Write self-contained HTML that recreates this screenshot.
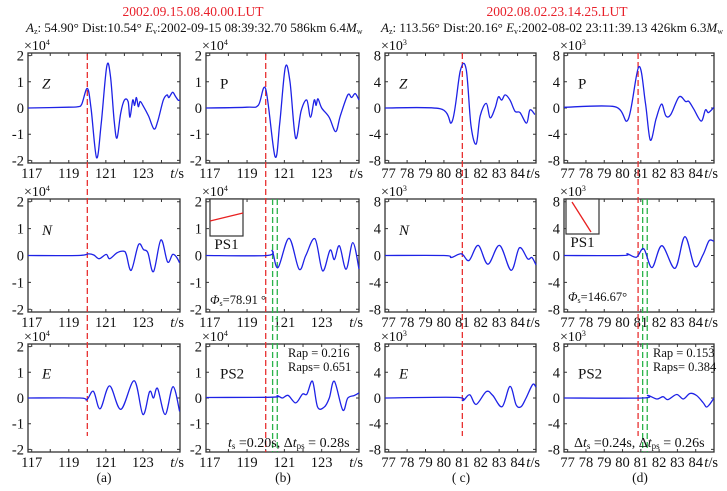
<!DOCTYPE html>
<html><head><meta charset="utf-8">
<style>
html,body{margin:0;padding:0;background:#fff;}
svg{display:block;font-family:"Liberation Serif",serif;}
</style></head>
<body>
<svg id="fig" width="727" height="491" viewBox="0 0 727 491" xmlns="http://www.w3.org/2000/svg">
<text x="193" y="16" text-anchor="middle" fill="#e8202a" font-size="13.5">2002.09.15.08.40.00.LUT</text>
<text x="26" y="32" font-size="13" fill="#111"><tspan font-style="italic">A</tspan><tspan font-size="8" dy="2">z</tspan><tspan dy="-2">: 54.90° Dist:10.54°  </tspan><tspan font-style="italic">E</tspan><tspan font-size="8" dy="2">v</tspan><tspan dy="-2">:2002-09-15 08:39:32.70  586km 6.4</tspan><tspan font-style="italic">M</tspan><tspan font-size="8" dy="2">w</tspan></text>
<text x="557" y="16" text-anchor="middle" fill="#e8202a" font-size="13.5">2002.08.02.23.14.25.LUT</text>
<text x="381" y="32" font-size="13" fill="#111"><tspan font-style="italic">A</tspan><tspan font-size="8" dy="2">z</tspan><tspan dy="-2">: 113.56° Dist:20.16°  </tspan><tspan font-style="italic">E</tspan><tspan font-size="8" dy="2">v</tspan><tspan dy="-2">:2002-08-02  23:11:39.13  426km 6.3</tspan><tspan font-style="italic">M</tspan><tspan font-size="8" dy="2">w</tspan></text>
</svg>
<script>
const aZ_t=[116.8,119.0,119.5,119.7,120.0,120.2,120.5,120.75,121.05,121.25,121.45,121.6,121.8,122.0,122.2,122.3,122.45,122.55,122.65,122.75,122.85,123.0,123.3,123.6,123.8,124.1,124.3,124.4,124.6,124.75,124.9,125.0];
const aZ_v=[0,0.03,0.05,0.15,0.75,0,-1.9,-0.6,1.6,1.2,-0.5,-1.15,-0.2,0.3,0.25,-0.35,0.3,0.1,0.4,0.05,0.25,0.1,-0.3,-0.8,-0.5,0.3,0.5,0.4,0.6,0.45,0.3,0.3];
const aN_t=[116.8,119.5,120.06,120.35,120.64,121.02,121.2,121.6,121.95,122.1,122.37,122.76,123.03,123.27,123.57,123.97,124.33,124.6,124.8,124.98];
const aN_v=[0,0,0.06,0.02,-0.12,0.04,-0.12,0.1,0.16,0.05,-0.55,0.4,0.22,0.1,-0.6,0.58,-0.24,0.04,-0.05,-0.27];
const aE_t=[116.8,119.6,119.97,120.33,120.69,121.2,121.81,122.53,123.0,123.36,123.57,123.79,124.2,124.62,124.98];
const aE_v=[0,0,-0.07,0.26,-0.42,0.47,-0.44,0.67,-0.64,0.25,0.0,0.37,-0.64,0.44,-0.52];
const bP_t=[116.8,119.0,119.6,120.0,120.5,120.75,121.05,121.3,121.6,121.9,122.2,122.4,122.6,122.7,122.8,123.0,123.4,123.75,124.0,124.4,124.6,124.8,125.0];
const bP_v=[0,0.03,0.1,0.72,-1.85,-0.6,1.55,1.0,-1.15,-0.1,0.3,-0.35,0.3,0.1,0.35,0.0,-0.35,-0.9,-0.3,0.5,0.4,0.55,0.3];
const bS1_t=[116.8,120.08,120.35,120.66,121.25,121.79,122.15,122.64,123.05,123.45,123.68,123.95,124.31,124.67,125.0];
const bS1_v=[0,0,0.17,-0.45,0.64,-0.51,0.0,0.62,-0.57,0.2,-0.15,0.36,-0.51,0.48,-0.5];
const bS2_t=[116.8,120.35,120.62,120.89,121.2,121.61,121.97,122.21,122.51,122.78,123.14,123.41,123.68,124.13,124.4,124.76,125.0];
const bS2_v=[0.02,0.03,0.09,0.0,0.1,-0.19,0.15,0.15,0.65,-0.35,-0.35,0.0,0.65,-0.47,0.0,0.1,0.2];
const cZ_t=[76.8,79.8,80.44,80.89,81.21,81.47,81.75,81.97,82.3,82.51,82.78,82.96,83.14,83.32,83.59,83.86,84.13,84.49,84.67,84.94];
const cZ_v=[0,-0.1,-2.1,5.7,5.9,-2.7,-5.5,-1.2,0.7,-1.5,0.0,1.7,1.2,2.0,1.2,-0.5,-0.7,-2.3,-0.3,-1.0];
const cN_t=[76.8,80.0,80.4,80.95,81.36,81.86,82.39,83.02,83.65,84.1,84.55,84.78,85.0];
const cN_v=[0,0,-0.3,0.25,-0.75,1.5,-1.3,1.5,-2.2,1.15,-0.5,-0.3,-1.4];
const cE_t=[76.8,80.67,81.03,81.4,81.75,82.3,82.65,83.16,83.59,83.92,84.19,84.46,84.82,85.0];
const cE_v=[0,0.1,-0.4,0.5,-1.0,1.0,0.4,-1.35,1.8,-1.05,-1.35,0.0,2.1,1.7];
const dP_t=[76.8,79.57,80.3,80.89,81.25,81.52,81.83,82.13,82.37,82.64,83.09,83.45,83.63,83.9,84.3,84.53,84.7,85.0];
const dP_v=[0.1,0.2,-1.8,6.3,0.8,-4.9,-1.7,0.6,-1.2,-1.0,1.7,1.0,1.0,-0.2,-2.0,-0.3,-0.7,0.1];
const dS1_t=[76.8,80.0,80.26,80.76,81.16,81.61,82.15,82.87,83.41,83.95,84.4,84.73,85.0];
const dS1_v=[0,0,0.25,-0.25,1.0,-1.8,1.45,-1.9,2.8,-1.6,0.1,2.2,2.1];
const dS2_t=[76.8,81.1,81.38,81.88,82.21,82.48,82.96,83.32,83.68,84.04,84.4,84.58,84.76,85.0];
const dS2_v=[0,0,0.4,-0.15,0.2,-0.25,0.55,-0.15,0.7,0.4,-0.7,-1.4,-1.0,0.0];
const abXTicks=[117,119,121,123];
const cdXTicks=[77,78,79,80,81,82,83,84];
const abYTicks=[-2,-1,0,1,2];
const cdYTicks=[-8,-4,0,4,8];

const NS="http://www.w3.org/2000/svg";
const svg=document.getElementById('fig');
function mk(tag,attrs,parent){const e=document.createElementNS(NS,tag);for(const k in attrs)e.setAttribute(k,attrs[k]);(parent||svg).appendChild(e);return e;}

const cols=[
 {x0:28,x1:180,xmin:116.8,xmax:125,ymax:2.1,xt:abXTicks,yt:abYTicks,exp:'4'},
 {x0:206,x1:359,xmin:116.8,xmax:125,ymax:2.1,xt:abXTicks,yt:abYTicks,exp:'4'},
 {x0:385,x1:536,xmin:76.8,xmax:85,ymax:8.4,xt:cdXTicks,yt:cdYTicks,exp:'3'},
 {x0:564,x1:714,xmin:76.8,xmax:85,ymax:8.4,xt:cdXTicks,yt:cdYTicks,exp:'3'}];
const rows=[[53,163],[199,312],[344,452]];
function sx(c,t){return c.x0+(t-c.xmin)/(c.xmax-c.xmin)*(c.x1-c.x0);}
function sy(c,r,v){const m=(r[0]+r[1])/2;return m-v/c.ymax*(r[1]-r[0])/2;}

const series=[
 [0,0,aZ_t,aZ_v,'Z',true],[0,1,aN_t,aN_v,'N',true],[0,2,aE_t,aE_v,'E',true],
 [1,0,bP_t,bP_v,'P',false],
 [1,1,bS1_t,bS1_v,'',false],[1,2,bS2_t,bS2_v,'PS2',false],
 [2,0,cZ_t,cZ_v,'Z',true],[2,1,cN_t,cN_v,'N',true],[2,2,cE_t,cE_v,'E',true],
 [3,0,dP_t,dP_v,'P',false],[3,1,dS1_t,dS1_v,'',false],[3,2,dS2_t,dS2_v,'PS2',false]];

function pathFrom(c,r,ts,vs){
  let pts=ts.map((t,i)=>[sx(c,t),sy(c,r,vs[i])]);
  let d='M'+pts[0][0].toFixed(1)+','+pts[0][1].toFixed(1);
  for(let i=0;i<pts.length-1;i++){
    const p0=pts[Math.max(0,i-1)],p1=pts[i],p2=pts[i+1],p3=pts[Math.min(pts.length-1,i+2)];
    const c1=[p1[0]+(p2[0]-p0[0])/6,p1[1]+(p2[1]-p0[1])/6];
    const c2=[p2[0]-(p3[0]-p1[0])/6,p2[1]-(p3[1]-p1[1])/6];
    d+=' C'+c1[0].toFixed(1)+','+c1[1].toFixed(1)+' '+c2[0].toFixed(1)+','+c2[1].toFixed(1)+' '+p2[0].toFixed(1)+','+p2[1].toFixed(1);
  }
  return d;
}

cols.forEach((c,ci)=>{
 rows.forEach((r,ri)=>{
  const g=mk('g',{});
  
  
  const box=mk('rect',{x:c.x0,y:r[0],width:c.x1-c.x0,height:r[1]-r[0],fill:'none',stroke:'#333','stroke-width':1.3},g);
  
  
  for(let t=Math.ceil(c.xmin);t<=c.xmax;t++){
    const x=sx(c,t);
    const tk=mk('path',{d:`M${x},${r[1]}v-3M${x},${r[0]}v3`,stroke:'#333','stroke-width':1},g);
    
    
  }
  c.xt.forEach(t=>{
    const x=sx(c,t);
    const lb=mk('text',{x:x,y:r[1]+15,'text-anchor':'middle','font-size':14.5,fill:'#111'},g);
    lb.textContent=t;
    
    
  });
  const ts=mk('text',{x:c.x1+4,y:r[1]+15,'text-anchor':'end','font-size':14.5,fill:'#111'},g);
  ts.innerHTML='<tspan font-style="italic">t</tspan>/s';
  
  
  c.yt.forEach(v=>{
    const y=sy(c,r,v);
    const tk=mk('path',{d:`M${c.x0},${y}h3M${c.x1},${y}h-3`,stroke:'#333','stroke-width':1},g);
    
    
    const lb=mk('text',{x:c.x0-4,y:y+5,'text-anchor':'end','font-size':14.5,fill:'#111'},g);
    lb.textContent=v;
    
    
  });
  const ex=mk('text',{x:c.x0-4,y:r[0]-3,'font-size':14,fill:'#111'},g);
  ex.innerHTML='×10<tspan font-size="8" dy="-5">'+c.exp+'</tspan>';
  
  
 });
});

function vline(x,y0,y1,col,name){
  const l=mk('line',{x1:x,x2:x,y1:y0,y2:y1,stroke:col,'stroke-width':1.3,'stroke-dasharray':'6,3'});
  
  
}
vline(sx(cols[0],120),54,436,'#e83030','p-arrival-line-a');
vline(sx(cols[1],120),54,452,'#e83030','p-arrival-line-b');
vline(sx(cols[1],120.37),199,452,'#2ab34a','ps-line-1-b');
vline(sx(cols[1],120.62),199,452,'#2ab34a','ps-line-2-b');
vline(sx(cols[2],81.0),53,436,'#e83030','p-arrival-line-c');
vline(sx(cols[3],80.85),53,436,'#e83030','p-arrival-line-d');
vline(sx(cols[3],81.1),199,452,'#2ab34a','ps-line-1-d');
vline(sx(cols[3],81.35),199,452,'#2ab34a','ps-line-2-d');

series.forEach(s=>{
  const c=cols[s[0]],r=rows[s[1]];
  const p=mk('path',{d:pathFrom(c,r,s[2],s[3]),fill:'none',stroke:'#1e22e6','stroke-width':1.3});
  
  
  if(s[4]){
    const lb=mk('text',{x:c.x0+14,y:sy(c,r,c.ymax*0.45)+5,'font-size':15,fill:'#111','font-style':s[5]?'italic':'normal'});
    lb.textContent=s[4];
    
    
  }
});

function inset(x,y,w,h,x1,y1,x2,y2,name){
  const g=mk('g',{});
  
  
  mk('rect',{x:x,y:y,width:w,height:h,fill:'#fff',stroke:'#333','stroke-width':1.2},g);
  mk('line',{x1:x1,y1:y1,x2:x2,y2:y2,stroke:'#e82020','stroke-width':1.3},g);
  const t=mk('text',{x:x+w/2,y:y+h+13,'text-anchor':'middle','font-size':15,fill:'#111'},g);
  t.textContent='PS1';
}
inset(210,199,33,37,210,221,243,213,'particle-motion-inset-b');
inset(566,199,33,35,572,202,591,232,'particle-motion-inset-d');
</script>
<script>
const s2=document.getElementById('fig');
function addText(x,y,html,name,size,anchor){
  const t=document.createElementNS("http://www.w3.org/2000/svg",'text');
  t.setAttribute('x',x);t.setAttribute('y',y);t.setAttribute('font-size',size||12.5);t.setAttribute('fill','#111');
  if(anchor)t.setAttribute('text-anchor',anchor);
  t.innerHTML=html;
  
  
  s2.appendChild(t);
}
addText(210,304,'<tspan font-style="italic">Φ</tspan><tspan font-size="8" dy="2">s</tspan><tspan dy="-2">=78.91 °</tspan>','phi-s-b',12.5);
addText(568,301,'<tspan font-style="italic">Φ</tspan><tspan font-size="8" dy="2">s</tspan><tspan dy="-2">=146.67°</tspan>','phi-s-d',12.5);
addText(288,357,'Rap  = 0.216','rap-b',12.5);
addText(288,371,'Raps= 0.651','raps-b',12.5);
addText(653,357,'Rap  = 0.153','rap-d',12.5);
addText(653,371,'Raps= 0.384','raps-d',12.5);
addText(228,447,'<tspan font-style="italic">t</tspan><tspan font-size="9" dy="2">s</tspan><tspan dy="-2"> =0.20s, Δ</tspan><tspan font-style="italic">t</tspan><tspan font-size="9" dy="2">ps</tspan><tspan dy="-2"> = 0.28s</tspan>','ts-dtps-b',14);
addText(574,447,'Δ<tspan font-style="italic">t</tspan><tspan font-size="9" dy="2">s</tspan><tspan dy="-2"> =0.24s, Δ</tspan><tspan font-style="italic">t</tspan><tspan font-size="9" dy="2">ps</tspan><tspan dy="-2"> = 0.26s</tspan>','dts-dtps-d',14);
addText(104,482,'(a)','caption-a',13.5,'middle');
addText(283,482,'(b)','caption-b',13.5,'middle');
addText(461,482,'( c)','caption-c',13.5,'middle');
addText(640,482,'(d)','caption-d',13.5,'middle');
</script>
</body></html>
